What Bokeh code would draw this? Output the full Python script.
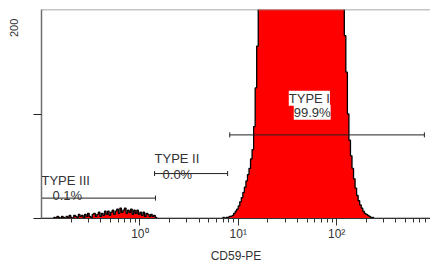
import numpy as np
from math import pi
from bokeh.plotting import figure
from bokeh.models import Range1d, FixedTicker, ColumnDataSource, LabelSet, Span, LinearAxis
from bokeh.core.properties import value
from bokeh.embed import file_html
from bokeh.resources import INLINE

# ---------------- data ----------------
x_min, x_max = 0.1, 1000.0          # 4-decade instrument channel scale
n_channels = 256
view_x_end = 900.0                  # right part of the original chart is cropped

low_start = 8
low_counts = [1, 0, 2, 1, 0, 2, 1, 0,
              2, 1, 3, 1, 0, 3, 2, 1, 4, 2,
              3, 1, 4, 2, 5, 2, 1, 4, 5, 2, 4, 6, 2,
              5, 3, 7, 4, 7, 3, 6, 8, 4, 7,
              9, 5, 10, 6, 8, 10, 5,
              8, 6, 9, 4, 8, 5, 8, 4, 6,
              3, 6, 2, 5, 4, 2, 4,
              2, 3, 1]

peak_start = 118
peak_counts = [1, 0, 1, 1, 2, 2, 3, 5, 7, 9, 12, 16, 20, 25, 30, 36, 42, 48, 57, 66, 88, 125, 165, 205,
               250, 300, 360, 420, 480, 540, 600, 650, 700, 740,
               780, 820, 850, 880, 900, 920, 940, 950, 960, 970,
               975, 980, 985, 980, 975, 970, 960, 950, 940, 930,
               915, 900, 880, 860, 840, 815, 790, 760, 730, 700,
               665, 630, 590, 550, 510, 470, 430, 390, 350, 310,
               280, 250, 230, 215,
               205, 175, 140, 100, 75, 60, 48, 38, 29, 22, 17, 13, 10, 7, 5, 4, 3, 2, 1, 1]

gate_names = ["TYPE I", "TYPE II", "TYPE III"]
gate_pct = ["99.9%", "0.0%", "0.1%"]
gate_lo = [8.2, 1.41, 0.1]
gate_hi = [780.0, 7.8, 1.44]
gate_y = [80.0, 43.0, 19.5]

x_major = [1, 10, 100, 1000]
x_major_labels = ["10⁰", "10¹", "10²", "10³"]
y_ticks = [0, 100]
y_max = 200
x_label = "CD59-PE"

# ---------------- plot ----------------
edges = np.logspace(np.log10(x_min), np.log10(x_max), n_channels + 1)
counts = np.zeros(n_channels)
counts[low_start:low_start + len(low_counts)] = low_counts
counts[peak_start:peak_start + len(peak_counts)] = peak_counts
step_y = np.append(counts, counts[-1])

FONT = "Liberation Sans"
TXT = "#333333"
FRAME_H = 211

p = figure(width=430, height=265, x_axis_type="log",
           x_range=Range1d(x_min, view_x_end), y_range=Range1d(0, y_max),
           output_backend="svg", toolbar_location=None,
           min_border_left=41, min_border_right=0, min_border_top=9, min_border_bottom=45)
p.xgrid.visible = False
p.ygrid.visible = False
p.outline_line_color = None
p.background_fill_color = "white"
p.border_fill_color = "white"

p.varea_step(x=edges, y1=np.zeros(len(edges)), y2=step_y, step_mode="after", fill_color="#ff0000")
p.step(x=edges, y=step_y, mode="after", line_color="black", line_width=1.3)

# top border
p.add_layout(Span(location=y_max, dimension="width", line_color="#8a8a8a", line_width=1.5))

# gates
gsrc = ColumnDataSource(dict(lo=gate_lo, hi=gate_hi, y=gate_y))
p.segment(x0="lo", y0="y", x1="hi", y1="y", source=gsrc, line_color="#222222", line_width=1)
p.scatter(x=gate_lo + gate_hi, y=gate_y + gate_y, marker="dash", angle=pi / 2,
          size=5, line_color="#222222", line_width=1)

# gate labels
title_xo = [59, 0, 0]
title_yo = [36.7, 15.5, 18]
pct_xo = [64, 8, 11]
pct_yo = [22.7, -0.5, 3]

def add_labels(idx, boxed):
    src = ColumnDataSource(dict(
        x=[gate_lo[i] for i in idx] * 2,
        y=[gate_y[i] for i in idx] * 2,
        text=[gate_names[i] for i in idx] + [gate_pct[i] for i in idx],
        xo=[title_xo[i] for i in idx] + [pct_xo[i] for i in idx],
        yo=[title_yo[i] for i in idx] + [pct_yo[i] for i in idx],
    ))
    kw = dict(background_fill_color="white", background_fill_alpha=1.0) if boxed else {}
    p.add_layout(LabelSet(x="x", y="y", text="text", x_offset="xo", y_offset="yo", source=src,
                          text_font=value(FONT), text_font_size=value("13px"), text_color=TXT,
                          text_align="left", text_baseline="middle", **kw))

add_labels([0], True)
add_labels([1, 2], False)

# x axis
xa = p.xaxis[0]
xa.ticker = FixedTicker(ticks=x_major,
                        minor_ticks=[k * 10.0 ** d for d in (-1, 0, 1, 2) for k in range(2, 10)])
xa.major_label_overrides = {float(t): l for t, l in zip(x_major, x_major_labels)}
xa.major_tick_out = 7
xa.major_tick_in = 0
xa.minor_tick_out = 4
xa.minor_tick_in = 0
xa.axis_line_color = "#333333"
xa.major_tick_line_color = "#333333"
xa.minor_tick_line_color = "#333333"
xa.major_label_standoff = 1
xa.major_label_text_font = FONT
xa.major_label_text_font_size = "12px"
xa.major_label_text_color = TXT
xa.axis_label = x_label
xa.axis_label_text_font = FONT
xa.axis_label_text_font_style = "normal"
xa.axis_label_text_font_size = "12px"
xa.axis_label_text_color = TXT
xa.axis_label_standoff = 5

# y axis (ticks only)
ya = p.yaxis[0]
ya.ticker = FixedTicker(ticks=y_ticks)
ya.major_label_overrides = {float(t): "" for t in y_ticks}
ya.major_tick_out = 8
ya.major_tick_in = 0
ya.minor_tick_line_color = None
ya.axis_line_color = "#707070"
ya.axis_line_width = 1.5
ya.major_tick_line_color = "#222222"
ya.major_label_standoff = 0

# outer label-only axis: "200" printed a little below the top of the scale
label_drop_px = 18.5
label_pos = y_max - label_drop_px * y_max / FRAME_H
lab_axis = LinearAxis(ticker=FixedTicker(ticks=[label_pos]),
                      major_label_overrides={float(label_pos): str(y_max)},
                      major_label_orientation="vertical",
                      axis_line_color=None, major_tick_line_color=None, minor_tick_line_color=None,
                      major_tick_out=0, major_tick_in=0, minor_tick_out=0, minor_tick_in=0,
                      major_label_standoff=15,
                      major_label_text_font=FONT, major_label_text_font_size="11px",
                      major_label_text_color=TXT)
p.add_layout(lab_axis, "left")

open("out.html", "w").write(file_html(p, INLINE))
